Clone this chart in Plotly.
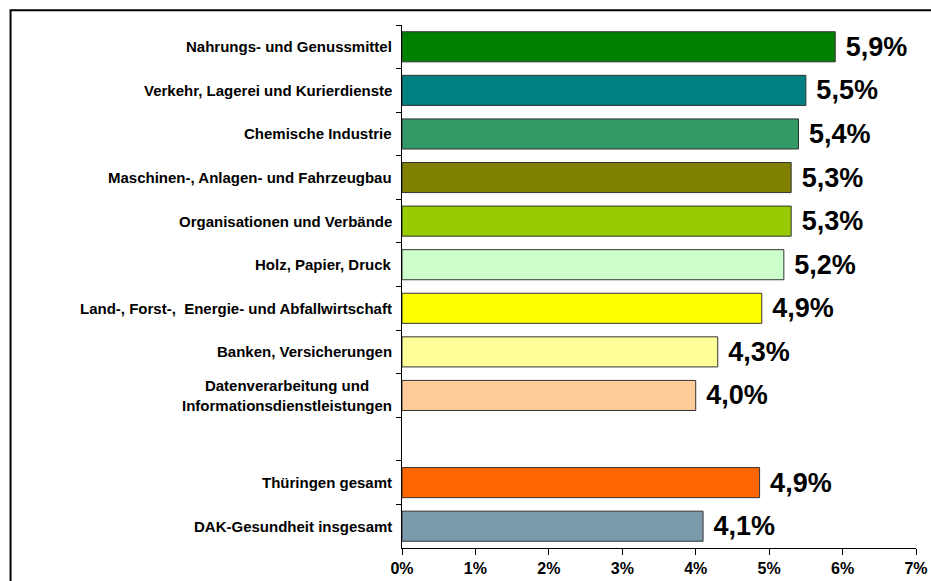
import plotly.graph_objects as go

categories = [
    "Nahrungs- und Genussmittel",
    "Verkehr, Lagerei und Kurierdienste",
    "Chemische Industrie",
    "Maschinen-, Anlagen- und Fahrzeugbau",
    "Organisationen und Verbände",
    "Holz, Papier, Druck",
    "Land-, Forst-,  Energie- und Abfallwirtschaft",
    "Banken, Versicherungen",
    "Datenverarbeitung und<br>Informationsdienstleistungen",
    " ",
    "Thüringen gesamt",
    "DAK-Gesundheit insgesamt",
]
values = [5.9, 5.5, 5.4, 5.3, 5.3, 5.2, 4.9, 4.3, 4.0, None, 4.87, 4.1]
value_labels = ["5,9%", "5,5%", "5,4%", "5,3%", "5,3%", "5,2%", "4,9%", "4,3%", "4,0%", "", "4,9%", "4,1%"]
colors = ["#008000", "#008080", "#339966", "#808000", "#99CC00", "#CCFFCC",
          "#FFFF00", "#FFFF99", "#FFCC99", "#FFFFFF", "#FF6600", "#7B9AAB"]
x_ticks = [0, 1, 2, 3, 4, 5, 6, 7]
x_tick_labels = ["0%", "1%", "2%", "3%", "4%", "5%", "6%", "7%"]

W, H = 940, 589
L, R, T, B = 402, 20, 25, 34
FONT = "Liberation Sans, Arial"

fig = go.Figure(go.Bar(
    x=values, y=categories, orientation="h",
    marker=dict(color=colors, line=dict(color="#333333", width=1)),
    text=value_labels, texttemplate=" %{text}", textposition="outside", cliponaxis=False,
    constraintext="none",
    textfont=dict(family=FONT, size=27, color="black", weight="bold"),
    hoverinfo="skip",
))

for cat in categories:
    if cat.strip():
        fig.add_annotation(x=0, xref="paper", y=cat, yref="y", text=cat,
                           xanchor="right", yanchor="middle", xshift=-8, align="center",
                           showarrow=False, font=dict(family=FONT, size=15, color="black", weight="bold"))

pw, ph = W - L - R, H - T - B
fig.add_shape(type="rect", xref="paper", yref="paper",
              x0=(7.5 - L) / pw, x1=(W + 15 - L) / pw,
              y0=(H - B - (H + 20)) / ph, y1=(H - B - 10) / ph,
              line=dict(color="black", width=2), fillcolor="rgba(0,0,0,0)", layer="below")

fig.update_layout(
    width=W, height=H,
    margin=dict(l=L, r=R, t=T, b=B, pad=0),
    paper_bgcolor="white", plot_bgcolor="white",
    bargap=0.31, showlegend=False,
    font=dict(family=FONT, color="black"),
    xaxis=dict(range=[0, 7], tickvals=x_ticks, ticktext=x_tick_labels,
               showgrid=False, zeroline=False, showline=True, linecolor="black", linewidth=1,
               ticks="outside", ticklen=6, tickcolor="black",
               tickfont=dict(size=16, weight="bold")),
    yaxis=dict(type="category", categoryorder="array", categoryarray=categories,
               autorange="reversed", tickson="boundaries", showticklabels=False,
               showgrid=False, showline=True, linecolor="black", linewidth=1,
               ticks="outside", ticklen=5, tickcolor="black"),
)

post = (
    "document.documentElement.style.overflow='hidden';"
    "document.body.style.margin='0';document.body.style.overflow='hidden';"
)
fig.write_html("out.html", config={"displayModeBar": False}, post_script=post)
